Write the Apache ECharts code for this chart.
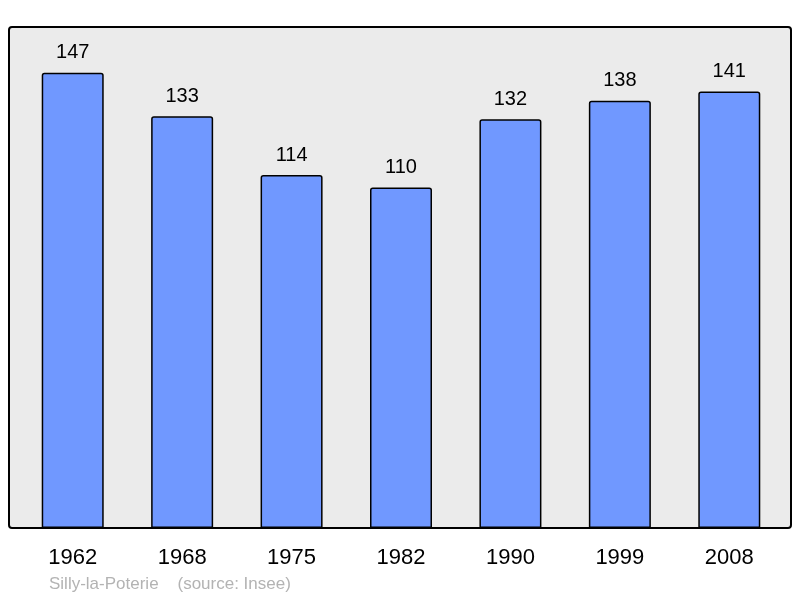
<!DOCTYPE html>
<html><head><meta charset="utf-8">
<script src="https://cdn.jsdelivr.net/npm/echarts@6/dist/echarts.min.js"></script>
<style>html,body{margin:0;padding:0;background:#fff}#c{width:800px;height:598px}</style>
</head><body><div id="c"></div>
<script>
const years = ['1962','1968','1975','1982','1990','1999','2008'];
const population = [147,133,114,110,132,138,141];
const sourceText = 'Silly-la-Poterie    (source: Insee)';

const chart = echarts.init(document.getElementById('c'), null, {renderer:'canvas'});
chart.setOption({
  animation:false,
  backgroundColor:'#ffffff',
  graphic:[
    {type:'rect', z:-10, shape:{x:9,y:27,width:782,height:501,r:3},
     style:{fill:'#ebebeb', stroke:'#000', lineWidth:2}},
    {type:'text', left:49, top:576, style:{text:sourceText, fill:'#b3b3b3', font:'17px "Liberation Sans", Arial, sans-serif'}}
  ],
  grid:{left:18,right:16,top:27,bottom:70,containLabel:false},
  xAxis:{type:'category', data:years,
    axisLine:{show:false}, axisTick:{show:false},
    axisLabel:{color:'#000', fontSize:22, margin:19, fontFamily:'"Liberation Sans", Arial, sans-serif'}},
  yAxis:{type:'value', min:0, max:161.8, show:false, splitLine:{show:false}},
  series:[{type:'bar', data:population, barWidth:62,
    itemStyle:{color:'#7098ff', borderColor:'#000', borderWidth:1.5, borderRadius:[2,2,0,0]},
    label:{show:true, position:'top', distance:10, color:'#000', fontSize:20,
      fontFamily:'"Liberation Sans", Arial, sans-serif'}}]
});
</script></body></html>
